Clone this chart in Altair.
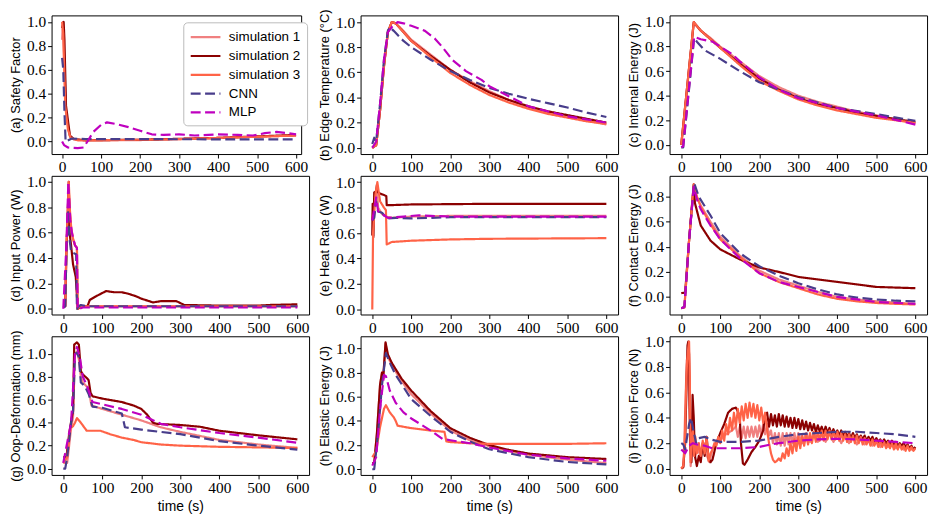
import altair as alt
import pandas as pd

SERIES = ["simulation 1", "simulation 2", "simulation 3", "CNN", "MLP"]
COLORS = ["#F08080", "#8B0000", "#FF6347", "#483D8B", "#BF00BF"]
DASHES = [[1, 0], [1, 0], [1, 0], [10, 4.5], [10, 4.5]]
WIDTHS = [2.2, 2.2, 2.2, 3, 3]
X_TICKS = [0, 100, 200, 300, 400, 500, 600]

# (a) Safety Factor
a_sim1_t = [0, 2, 5, 10, 20, 30, 60, 200, 300, 400, 500, 600]
a_sim1_v = [0.85, 1.0, 0.7, 0.25, 0.04, 0.02, 0.01, 0.012, 0.02, 0.03, 0.04, 0.05]
a_sim2_t = [0, 4, 6, 10, 20, 30, 60, 200, 400, 600]
a_sim2_v = [0.95, 1.0, 0.85, 0.3, 0.05, 0.02, 0.01, 0.015, 0.03, 0.055]
a_sim3_t = [0, 3, 8, 15, 22, 40, 100, 300, 500, 600]
a_sim3_v = [1.0, 0.9, 0.3, 0.1, 0.03, 0.01, 0.01, 0.02, 0.04, 0.05]
a_cnn_t = [0, 3, 6, 9, 25, 60, 200, 400, 600]
a_cnn_v = [0.7, 0.6, 0.25, 0.0, 0.025, 0.02, 0.02, 0.018, 0.018]
a_mlp_t = [0, 5, 15, 40, 55, 65, 80, 100, 115, 140, 170, 200, 230, 260, 300, 340, 400, 450, 490, 520, 550, 580, 600]
a_mlp_v = [0.0, -0.03, -0.05, -0.055, -0.05, 0.0, 0.08, 0.14, 0.16, 0.145, 0.12, 0.09, 0.06, 0.055, 0.06, 0.05, 0.06, 0.055, 0.05, 0.07, 0.08, 0.07, 0.06]

# (b) Edge Temperature
b_sim_t = [0, 10, 20, 30, 40, 50, 60, 80, 100, 150, 200, 250, 300, 350, 400, 450, 500, 550, 600]
b_sim1_v = [0.0, 0.02, 0.3, 0.65, 0.92, 1.0, 0.99, 0.93, 0.86, 0.74, 0.62, 0.53, 0.45, 0.38, 0.32, 0.28, 0.25, 0.215, 0.185]
b_sim2_v = [0.0, 0.02, 0.3, 0.65, 0.92, 1.0, 0.99, 0.92, 0.85, 0.73, 0.62, 0.52, 0.44, 0.38, 0.33, 0.29, 0.26, 0.23, 0.2]
b_sim3_v = [0.0, 0.02, 0.3, 0.65, 0.92, 1.0, 0.99, 0.92, 0.85, 0.72, 0.595, 0.5, 0.42, 0.36, 0.31, 0.27, 0.24, 0.21, 0.19]
b_cnn_t = [0, 5, 10, 20, 30, 40, 45, 55, 80, 100, 150, 200, 250, 300, 350, 400, 450, 500, 550, 600]
b_cnn_v = [0.03, 0.08, 0.05, 0.35, 0.7, 0.93, 0.96, 0.93, 0.85, 0.8, 0.7, 0.61, 0.54, 0.475, 0.43, 0.39, 0.355, 0.32, 0.28, 0.245]
b_mlp_t = [0, 10, 20, 30, 40, 50, 65, 80, 100, 135, 160, 180, 205, 240, 280, 300, 350, 400, 500, 600]
b_mlp_v = [0.0, 0.05, 0.35, 0.7, 0.92, 0.96, 1.0, 0.99, 0.97, 0.93, 0.87, 0.8, 0.7, 0.61, 0.54, 0.49, 0.41, 0.33, 0.25, 0.2]

# (c) Internal Energy
c_sim_t = [0, 32, 50, 75, 100, 150, 200, 250, 300, 350, 400, 450, 500, 550, 600]
c_sim1_v = [0.0, 0.99, 0.93, 0.87, 0.8, 0.68, 0.56, 0.47, 0.4, 0.35, 0.31, 0.27, 0.24, 0.205, 0.175]
c_sim2_v = [0.0, 1.0, 0.93, 0.86, 0.79, 0.66, 0.54, 0.45, 0.38, 0.33, 0.3, 0.26, 0.235, 0.21, 0.185]
c_sim3_v = [0.0, 1.0, 0.93, 0.86, 0.79, 0.65, 0.52, 0.44, 0.37, 0.32, 0.28, 0.25, 0.22, 0.2, 0.18]
c_cnn_t = [0, 5, 33, 40, 60, 100, 150, 200, 250, 300, 400, 500, 600]
c_cnn_v = [-0.02, -0.02, 0.87, 0.84, 0.77, 0.7, 0.6, 0.51, 0.45, 0.39, 0.3, 0.25, 0.195]
c_mlp_t = [0, 5, 33, 50, 80, 100, 130, 150, 200, 250, 300, 400, 500, 600]
c_mlp_v = [-0.02, -0.01, 0.88, 0.86, 0.84, 0.8, 0.74, 0.68, 0.55, 0.45, 0.38, 0.3, 0.24, 0.165]

# (d) Input Power
d_sim1_t = [0, 5, 8, 11, 14, 17, 20, 25, 30, 35, 37, 40, 60, 600]
d_sim1_v = [0.02, 0.02, 0.45, 0.7, 0.95, 0.75, 0.62, 0.55, 0.5, 0.48, 0.0, 0.01, 0.02, 0.02]
d_sim2_t = [0, 5, 8, 11, 14, 16, 20, 25, 32, 35, 37, 50, 62, 68, 85, 110, 130, 150, 165, 185, 200, 220, 230, 250, 290, 310, 400, 500, 530, 600]
d_sim2_v = [0.02, 0.02, 0.45, 0.7, 1.0, 0.6, 0.5, 0.35, 0.25, 0.1, 0.0, 0.02, 0.02, 0.07, 0.1, 0.14, 0.13, 0.13, 0.12, 0.1, 0.08, 0.06, 0.05, 0.06, 0.06, 0.03, 0.025, 0.025, 0.03, 0.035]
d_sim3_t = [0, 5, 8, 11, 14, 17, 20, 25, 30, 35, 37, 40, 60, 600]
d_sim3_v = [0.02, 0.02, 0.5, 0.72, 1.0, 0.78, 0.65, 0.55, 0.5, 0.48, 0.0, 0.01, 0.02, 0.02]
d_cnn_t = [0, 5, 8, 12, 14, 16, 20, 25, 33, 35, 40, 45, 60, 100, 600]
d_cnn_v = [0.01, 0.02, 0.45, 0.78, 0.65, 0.55, 0.45, 0.44, 0.43, 0.0, 0.02, 0.03, 0.02, 0.02, 0.02]
d_mlp_t = [0, 8, 13, 18, 22, 30, 35, 37, 50, 600]
d_mlp_v = [0.0, 0.5, 1.0, 0.7, 0.6, 0.5, 0.48, -0.005, 0.01, 0.01]

# (e) Heat Rate
e_sim1_t = [0, 3, 8, 12, 15, 25, 35, 50, 100, 200, 400, 600]
e_sim1_v = [0.7, 0.8, 0.9, 0.95, 0.8, 0.75, 0.73, 0.72, 0.73, 0.735, 0.735, 0.735]
e_sim2_t = [0, 1, 3, 5, 10, 12, 15, 20, 30, 36, 37, 50, 100, 300, 600]
e_sim2_v = [0.58, 0.83, 0.57, 0.92, 0.93, 0.98, 0.92, 0.91, 0.9, 0.89, 0.82, 0.82, 0.825, 0.83, 0.83]
e_sim3_t = [0, 2, 5, 8, 13, 20, 30, 35, 37, 50, 100, 200, 300, 600]
e_sim3_v = [0.0, 0.6, 0.75, 0.9, 1.0, 0.85, 0.8, 0.78, 0.51, 0.53, 0.54, 0.55, 0.555, 0.56]
e_cnn_t = [0, 5, 10, 12, 15, 25, 33, 40, 60, 100, 150, 200, 600]
e_cnn_v = [0.7, 0.72, 0.85, 0.8, 0.77, 0.76, 0.73, 0.715, 0.72, 0.715, 0.72, 0.725, 0.725]
e_mlp_t = [0, 10, 15, 30, 40, 80, 120, 150, 200, 600]
e_mlp_v = [0.7, 0.88, 0.77, 0.74, 0.72, 0.73, 0.74, 0.735, 0.73, 0.73]

# (f) Contact Energy
f_sim_t = [0, 8, 20, 32, 40, 50, 75, 100, 150, 200, 250, 300, 350, 400, 450, 500, 550, 600]
f_sim1_v = [-0.09, -0.08, 0.45, 0.89, 0.8, 0.73, 0.6, 0.48, 0.33, 0.21, 0.14, 0.09, 0.04, 0.0, -0.02, -0.035, -0.045, -0.055]
f_sim3_v = [-0.09, -0.085, 0.45, 0.9, 0.8, 0.72, 0.58, 0.46, 0.32, 0.19, 0.12, 0.07, 0.02, -0.015, -0.035, -0.048, -0.055, -0.06]
f_sim2_t = [0, 10, 20, 32, 35, 50, 75, 100, 150, 200, 250, 300, 400, 500, 550, 600]
f_sim2_v = [0.03, 0.035, 0.45, 0.9, 0.75, 0.57, 0.45, 0.38, 0.3, 0.235, 0.2, 0.16, 0.12, 0.08, 0.075, 0.07]
f_cnn_t = [0, 8, 20, 33, 45, 75, 100, 150, 200, 250, 300, 350, 400, 450, 500, 550, 600]
f_cnn_v = [-0.09, -0.08, 0.45, 0.91, 0.8, 0.65, 0.51, 0.35, 0.245, 0.17, 0.11, 0.06, 0.02, -0.005, -0.02, -0.03, -0.035]
f_mlp_t = [0, 8, 20, 32, 40, 50, 75, 100, 150, 200, 250, 300, 400, 500, 600]
f_mlp_v = [-0.09, -0.08, 0.45, 0.88, 0.78, 0.7, 0.57, 0.46, 0.31, 0.19, 0.12, 0.08, 0.0, -0.04, -0.055]

# (g) Oop-Deformation
g_sim1_t = [0, 10, 20, 25, 30, 35, 40, 45, 50, 65, 72, 100, 150, 200, 250, 300, 400, 500, 600]
g_sim1_v = [0.05, 0.05, 0.35, 0.45, 1.0, 1.02, 0.95, 0.8, 0.75, 0.7, 0.55, 0.52, 0.47, 0.42, 0.36, 0.32, 0.25, 0.21, 0.18]
g_sim2_t = [0, 8, 15, 22, 25, 28, 35, 40, 45, 50, 60, 65, 70, 75, 100, 150, 180, 200, 215, 230, 240, 300, 350, 400, 500, 600]
g_sim2_v = [0.1, 0.1, 0.3, 0.45, 0.5, 1.08, 1.1, 1.08, 0.85, 0.82, 0.79, 0.77, 0.66, 0.63, 0.61, 0.58, 0.55, 0.52, 0.47, 0.4, 0.39, 0.38, 0.365, 0.33, 0.29, 0.255]
g_sim3_t = [0, 10, 18, 25, 30, 35, 45, 60, 75, 95, 120, 150, 180, 190, 200, 250, 300, 400, 500, 600]
g_sim3_v = [0.05, 0.1, 0.35, 0.37, 0.4, 0.44, 0.4, 0.33, 0.33, 0.33, 0.3, 0.27, 0.25, 0.24, 0.23, 0.21, 0.2, 0.19, 0.185, 0.18]
g_cnn_t = [0, 5, 10, 20, 25, 30, 35, 40, 45, 55, 65, 75, 100, 150, 158, 200, 250, 300, 350, 400, 500, 600]
g_cnn_v = [0.0, 0.0, 0.1, 0.4, 0.5, 1.0, 1.01, 0.97, 0.75, 0.72, 0.65, 0.54, 0.53, 0.48, 0.36, 0.34, 0.32, 0.3, 0.27, 0.24, 0.2, 0.165]
g_mlp_t = [0, 20, 30, 35, 42, 50, 60, 75, 100, 150, 200, 250, 300, 400, 500, 600]
g_mlp_v = [0.05, 0.4, 1.0, 1.06, 0.98, 0.8, 0.73, 0.58, 0.56, 0.52, 0.47, 0.39, 0.36, 0.31, 0.27, 0.225]

# (h) Elastic Energy
h_sim_t = [0, 5, 12, 20, 25, 28, 34, 40, 50, 75, 100, 150, 200, 250, 300, 350, 400, 500, 600]
h_sim1_v = [0.05, 0.05, 0.3, 0.7, 0.8, 0.75, 1.04, 0.93, 0.86, 0.73, 0.62, 0.46, 0.32, 0.24, 0.19, 0.15, 0.12, 0.08, 0.05]
h_sim2_v = [0.05, 0.05, 0.3, 0.7, 0.8, 0.75, 1.05, 0.95, 0.88, 0.75, 0.65, 0.48, 0.34, 0.26, 0.2, 0.16, 0.13, 0.1, 0.085]
h_sim3_t = [0, 10, 20, 30, 35, 45, 55, 60, 65, 100, 150, 185, 190, 200, 250, 300, 400, 500, 600]
h_sim3_v = [0.1, 0.15, 0.35, 0.5, 0.53, 0.47, 0.43, 0.4, 0.36, 0.34, 0.32, 0.31, 0.23, 0.225, 0.215, 0.21, 0.21, 0.21, 0.215]
h_cnn_t = [0, 5, 15, 25, 35, 45, 60, 100, 150, 200, 250, 300, 400, 500, 600]
h_cnn_v = [0.0, 0.0, 0.3, 0.7, 0.96, 0.88, 0.78, 0.58, 0.44, 0.31, 0.23, 0.165, 0.1, 0.06, 0.04]
h_mlp_t = [0, 10, 20, 30, 35, 45, 60, 80, 100, 150, 180, 200, 250, 300, 400, 500, 600]
h_mlp_v = [0.03, 0.1, 0.5, 0.78, 0.77, 0.65, 0.55, 0.47, 0.42, 0.32, 0.25, 0.24, 0.215, 0.18, 0.12, 0.09, 0.07]

# (i) Friction Force
i_sim1_t = ([0, 6, 10, 14, 17, 21, 24, 28, 32, 36, 42, 50, 58, 66, 72, 80, 90, 100, 110, 120, 130]
            + list(range(140, 305, 5)) + list(range(310, 605, 10)))
i_sim1_v = [0.0, 0.02, 0.45, 0.85, 0.9, 0.4, 0.02, 0.15, 0.22, 0.1, 0.15, 0.1, 0.2, 0.1, 0.05, 0.15, 0.2, 0.22, 0.26, 0.28, 0.3,
            0.33, 0.25, 0.33, 0.24, 0.33, 0.24, 0.33, 0.25, 0.33, 0.25,
            0.33, 0.25, 0.34, 0.26, 0.35, 0.27, 0.35, 0.26, 0.30, 0.20,
            0.28, 0.19, 0.28, 0.18, 0.28, 0.18, 0.28, 0.19, 0.28, 0.20,
            0.28, 0.20, 0.28,
            0.20, 0.28, 0.21, 0.28, 0.21, 0.28, 0.21, 0.28, 0.21, 0.27,
            0.20, 0.26, 0.20, 0.25, 0.19, 0.24, 0.19, 0.23, 0.18, 0.22,
            0.17, 0.21, 0.17, 0.20, 0.16, 0.19, 0.15, 0.18, 0.15, 0.16]
i_sim2_t = ([0, 5, 10, 13, 16, 18, 20, 23, 26, 29, 32, 35, 40, 45, 50, 55, 60, 65, 70, 75, 80, 90, 100, 110, 120, 130,
             140, 145, 150, 153, 158, 162, 170, 180, 190, 200, 210, 215]
            + list(range(220, 605, 5)))
i_sim2_v = [0.0, 0.01, 0.2, 0.6, 0.97, 1.0, 0.9, 0.2, 0.05, 0.58, 0.4, 0.1, 0.02, 0.1, 0.05, 0.2, 0.1, 0.25, 0.08, 0.05,
            0.07, 0.2, 0.28, 0.35, 0.44, 0.47, 0.48, 0.45, 0.4, 0.2, 0.04, 0.03, 0.07, 0.13, 0.17, 0.22, 0.3, 0.42,
            0.44, 0.33, 0.43, 0.34, 0.42, 0.33, 0.43, 0.34, 0.42, 0.33,
            0.41, 0.33, 0.40, 0.32, 0.40, 0.32, 0.39, 0.31, 0.38, 0.31,
            0.37, 0.30, 0.36, 0.30, 0.35, 0.29, 0.34, 0.29, 0.33, 0.28,
            0.33, 0.28, 0.32, 0.27, 0.31, 0.27, 0.30, 0.26, 0.30, 0.25,
            0.29, 0.25, 0.28, 0.24, 0.28, 0.24, 0.27, 0.23, 0.26, 0.23,
            0.26, 0.22, 0.25, 0.22, 0.25, 0.21, 0.24, 0.21, 0.23, 0.20,
            0.23, 0.20, 0.22, 0.19, 0.22, 0.19, 0.21, 0.18, 0.20, 0.18,
            0.20, 0.17, 0.19, 0.16, 0.18, 0.15, 0.17]
i_sim3_t = ([0, 5, 9, 12, 15, 18, 20, 22, 24, 27, 30, 33, 36, 40, 45, 50, 55, 60, 65, 70, 75, 80, 85]
            + list(range(90, 605, 5)))
i_sim3_v = [0.0, 0.02, 0.2, 0.6, 0.85, 0.95, 1.0, 0.7, 0.05, 0.25, 0.3, 0.1, 0.25, 0.12, 0.2, 0.1, 0.22, 0.12, 0.25,
            0.06, 0.12, 0.15, 0.2,
            0.18, 0.25, 0.20, 0.30, 0.22, 0.35, 0.27, 0.40, 0.30, 0.44,
            0.33, 0.47, 0.36, 0.49, 0.38, 0.51, 0.40, 0.52, 0.41, 0.51,
            0.40, 0.50, 0.38, 0.48, 0.36, 0.44, 0.30, 0.20, 0.12, 0.07,
            0.05, 0.06, 0.08, 0.06, 0.12, 0.08, 0.16, 0.10, 0.20, 0.12,
            0.23, 0.14, 0.25, 0.16, 0.26, 0.18, 0.27, 0.19, 0.28, 0.20,
            0.29, 0.21, 0.29, 0.22, 0.30, 0.22, 0.30, 0.23, 0.30, 0.23,
            0.29, 0.23, 0.29, 0.22, 0.28, 0.22, 0.27, 0.21, 0.27, 0.21,
            0.26, 0.20, 0.26, 0.20, 0.25, 0.19, 0.24, 0.19, 0.23, 0.18,
            0.23, 0.18, 0.22, 0.17, 0.22, 0.17, 0.21, 0.16, 0.21, 0.16,
            0.20, 0.15, 0.20, 0.15, 0.19, 0.15, 0.18, 0.14, 0.18, 0.14,
            0.17, 0.14, 0.16]
i_cnn_t = [0, 5, 10, 20, 25, 30, 38, 45, 60, 75, 100, 150, 200, 250, 300, 350, 400, 450, 500, 550, 600]
i_cnn_v = [0.2, 0.19, 0.15, 0.35, 0.4, 0.32, 0.2, 0.24, 0.25, 0.23, 0.21, 0.21, 0.22, 0.25, 0.27, 0.28, 0.29, 0.29, 0.28, 0.27, 0.25]
i_mlp_t = [0, 10, 20, 30, 40, 60, 80, 100, 150, 200, 230, 250, 300, 350, 400, 450, 500, 550, 600]
i_mlp_v = [0.15, 0.12, 0.18, 0.2, 0.19, 0.18, 0.16, 0.16, 0.16, 0.17, 0.19, 0.2, 0.22, 0.23, 0.235, 0.23, 0.22, 0.21, 0.2]


def frame(pairs):
    rows = []
    for name, ts, vs in pairs:
        if len(ts) != len(vs):
            raise ValueError(f"length mismatch in {name}: {len(ts)} vs {len(vs)}")
        for t, v in zip(ts, vs):
            rows.append({"t": t, "v": v, "series": name})
    return pd.DataFrame(rows)


def panel(pairs, ytitle, ydom, yvals, xdom=(-30, 630), width=260, xtitle=None, legend=None):
    df = frame(pairs)
    return alt.Chart(df).mark_line(clip=True, strokeJoin="round").encode(
        x=alt.X("t:Q", scale=alt.Scale(domain=list(xdom), nice=False, zero=False),
                axis=alt.Axis(values=X_TICKS, title=xtitle, format="d")),
        y=alt.Y("v:Q", scale=alt.Scale(domain=list(ydom), nice=False, zero=False),
                axis=alt.Axis(values=yvals, title=ytitle, format=".1f")),
        color=alt.Color("series:N", scale=alt.Scale(domain=SERIES, range=COLORS), legend=legend, title=None),
        strokeDash=alt.StrokeDash("series:N", scale=alt.Scale(domain=SERIES, range=DASHES), legend=legend, title=None),
        strokeWidth=alt.StrokeWidth("series:N", scale=alt.Scale(domain=SERIES, range=WIDTHS), legend=None),
    ).properties(width=width, height=140)


Y6 = [0.0, 0.2, 0.4, 0.6, 0.8, 1.0]
Y5 = [0.0, 0.2, 0.4, 0.6, 0.8]

leg = alt.Legend(orient="none", legendX=133, legendY=7, symbolType="M-1,0H3", symbolSize=225,
                 symbolStrokeWidth=2.5, labelFont="Liberation Sans", labelFontSize=13.5, labelColor="black",
                 fillColor="white", strokeColor="#bbbbbb", cornerRadius=4, padding=6, rowPadding=3,
                 labelOffset=22, title=None)

pa = panel([(SERIES[0], a_sim1_t, a_sim1_v), (SERIES[1], a_sim2_t, a_sim2_v), (SERIES[2], a_sim3_t, a_sim3_v),
            (SERIES[3], a_cnn_t, a_cnn_v), (SERIES[4], a_mlp_t, a_mlp_v)],
           "(a) Safety Factor", (-0.105, 1.055), Y6, xdom=(-27, 613), width=252, legend=leg)
pb = panel([(SERIES[0], b_sim_t, b_sim1_v), (SERIES[1], b_sim_t, b_sim2_v), (SERIES[2], b_sim_t, b_sim3_v),
            (SERIES[3], b_cnn_t, b_cnn_v), (SERIES[4], b_mlp_t, b_mlp_v)],
           "(b) Edge Temperature (°C)", (-0.05, 1.053), Y6)
pc = panel([(SERIES[0], c_sim_t, c_sim1_v), (SERIES[1], c_sim_t, c_sim2_v), (SERIES[2], c_sim_t, c_sim3_v),
            (SERIES[3], c_cnn_t, c_cnn_v), (SERIES[4], c_mlp_t, c_mlp_v)],
           "(c) Internal Energy (J)", (-0.075, 1.054), Y6)
pd_ = panel([(SERIES[0], d_sim1_t, d_sim1_v), (SERIES[1], d_sim2_t, d_sim2_v), (SERIES[2], d_sim3_t, d_sim3_v),
             (SERIES[3], d_cnn_t, d_cnn_v), (SERIES[4], d_mlp_t, d_mlp_v)],
            "(d) Input Power (W)", (-0.045, 1.047), Y6)
pe = panel([(SERIES[0], e_sim1_t, e_sim1_v), (SERIES[1], e_sim2_t, e_sim2_v), (SERIES[2], e_sim3_t, e_sim3_v),
            (SERIES[3], e_cnn_t, e_cnn_v), (SERIES[4], e_mlp_t, e_mlp_v)],
           "(e) Heat Rate (W)", (-0.04, 1.05), Y6)
pf = panel([(SERIES[0], f_sim_t, f_sim1_v), (SERIES[1], f_sim2_t, f_sim2_v), (SERIES[2], f_sim_t, f_sim3_v),
            (SERIES[3], f_cnn_t, f_cnn_v), (SERIES[4], f_mlp_t, f_mlp_v)],
           "(f) Contact Energy (J)", (-0.14, 0.967), Y5)
pg = panel([(SERIES[0], g_sim1_t, g_sim1_v), (SERIES[1], g_sim2_t, g_sim2_v), (SERIES[2], g_sim3_t, g_sim3_v),
            (SERIES[3], g_cnn_t, g_cnn_v), (SERIES[4], g_mlp_t, g_mlp_v)],
           "(g) Oop-Deformation (mm)", (-0.055, 1.153), Y6, xtitle="time (s)")
ph = panel([(SERIES[0], h_sim_t, h_sim1_v), (SERIES[1], h_sim_t, h_sim2_v), (SERIES[2], h_sim3_t, h_sim3_v),
            (SERIES[3], h_cnn_t, h_cnn_v), (SERIES[4], h_mlp_t, h_mlp_v)],
           "(h) Elastic Energy (J)", (-0.047, 1.1), Y6, xtitle="time (s)")
pi = panel([(SERIES[0], i_sim1_t, i_sim1_v), (SERIES[1], i_sim2_t, i_sim2_v), (SERIES[2], i_sim3_t, i_sim3_v),
            (SERIES[3], i_cnn_t, i_cnn_v), (SERIES[4], i_mlp_t, i_mlp_v)],
           "(i) Friction Force (N)", (-0.05, 1.042), Y6, xtitle="time (s)")

chart = alt.concat(pa, pb, pc, pd_, pe, pf, pg, ph, pi, columns=3,
                   spacing={"row": 22, "column": 52}, bounds="flush").resolve_scale(
    color="independent", strokeDash="independent", strokeWidth="independent"
).properties(
    padding={"left": 1, "top": -3, "right": 5, "bottom": 0},
    background="white",
).configure_view(
    stroke="black", strokeWidth=1
).configure_axis(
    grid=False, domain=False, ticks=True, tickColor="black", tickSize=4, tickWidth=1,
    labelFont="Liberation Serif", labelFontSize=15.5, labelColor="black", labelPadding=2,
    titleFont="Liberation Sans", titleFontSize=13, titleFontWeight="normal", titleColor="black",
    titlePadding=4,
).configure_axisX(
    titleFontSize=14, titlePadding=3, labelFlush=False
)

chart.save("out.html", embed_options={"renderer": "svg", "actions": False})
